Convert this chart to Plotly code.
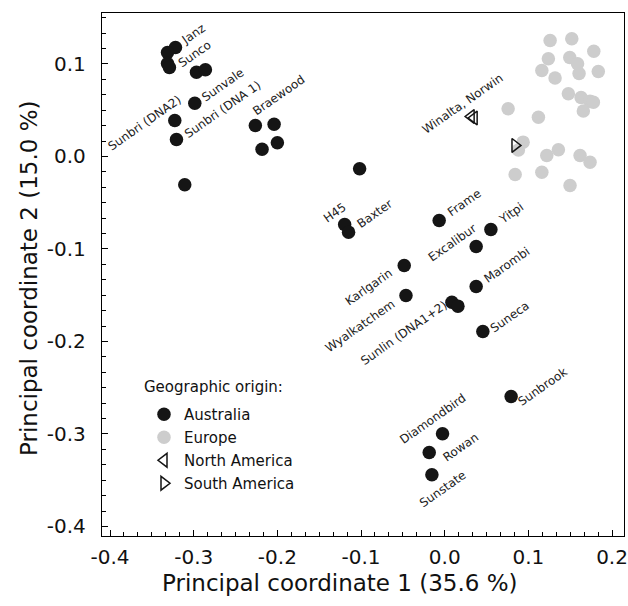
import plotly.graph_objects as go

# ---------------- data ----------------
aus_x = [-0.3218, -0.3313, -0.3313, -0.3290, -0.2967, -0.2860, -0.2987, -0.3226, -0.3206, -0.3107,
         -0.2263, -0.2039, -0.2183, -0.2000, -0.1017, -0.1196, -0.1149, -0.0066, 0.0552, 0.0376,
         -0.0484, -0.0463, 0.0376, 0.0086, 0.0158, 0.0456, 0.0794, -0.0026, -0.0185, -0.0153]
aus_y = [0.1178, 0.1124, 0.1005, 0.0962, 0.0911, 0.0937, 0.0576, 0.0389, 0.0184, -0.0306,
         0.0335, 0.0349, 0.0079, 0.0148, -0.0133, -0.0735, -0.0818, -0.0692, -0.0789, -0.0973,
         -0.1178, -0.1503, -0.1405, -0.1575, -0.1618, -0.1892, -0.2595, -0.2998, -0.3200, -0.3441]

eur_x = [0.1260, 0.1519, 0.1782, 0.1239, 0.1161, 0.1319, 0.1495, 0.1588, 0.1606, 0.1836,
         0.1478, 0.1630, 0.1737, 0.1777, 0.1657, 0.0758, 0.1120, 0.0937, 0.0881, 0.1220,
         0.1359, 0.1618, 0.1737, 0.0842, 0.1161, 0.1498]
eur_y = [0.1254, 0.1272, 0.1138, 0.1056, 0.0930, 0.0849, 0.1070, 0.1002, 0.0897, 0.0919,
         0.0678, 0.0638, 0.0598, 0.0587, 0.0492, 0.0516, 0.0425, 0.0155, 0.0070, 0.0011,
         0.0072, 0.0011, -0.0062, -0.0195, -0.0170, -0.0314]

nam_x = [0.0316, 0.0352]
nam_y = [0.0432, 0.0416]

sam_x = [0.0840]
sam_y = [0.0119]

# cultivar labels: (text, group, index of point)
label_text = ["Janz", "Sunco", "Sunvale", "Sunbri (DNA2)", "Sunbri (DNA 1)", "Braewood",
              "H45", "Baxter", "Frame", "Yitpi", "Excalibur", "Karlgarin", "Wyalkatchem",
              "Marombi", "Sunlin (DNA1+2)", "Suneca", "Winalta, Norwin", "Sunbrook",
              "Diamondbird", "Rowan", "Sunstate"]
label_group = ["aus"] * 16 + ["nam"] + ["aus"] * 4
label_point = [0, 2, 6, 7, 8, 10, 15, 16, 17, 18, 19, 20, 21, 22, 23, 25, 0, 26, 27, 28, 29]

x_tickvals = [-0.4, -0.3, -0.2, -0.1, 0.0, 0.1, 0.2]
x_ticktext = ["-0.4", "-0.3", "-0.2", "-0.1", "0.0", "0.1", "0.2"]
y_tickvals = [0.1, 0.0, -0.1, -0.2, -0.3, -0.4]
y_ticktext = ["0.1", "0.0", "-0.1", "-0.2", "-0.3", "-0.4"]

x_title = "Principal coordinate 1 (35.6 %)"
y_title = "Principal coordinate 2 (15.0 %)"
legend_title = "Geographic origin:"

# ---------------- styling ----------------
# label pixel offsets (dx right, dy down) from their point
label_offsets = [(18, -14), (27, -10), (28, -18), (-30, 3), (47, -30), (24, -30),
                 (-10, -11), (26, -18), (25, -17), (21, -16), (-24, -3), (-35, 22), (-46, 30),
                 (31, -21), (-48, 31), (27, -14), (-9, -13), (31, -10),
                 (-10, -15), (32, -5), (11, 14)]

FONT = "DejaVu Sans"
BLACK = "#151515"
GRAY = "#cdcdcd"
TXT = "#111111"

W, H = 628, 606
ML, MR, MT, MB = 102, 4, 13, 70

fig = go.Figure()
fig.add_trace(go.Scatter(x=aus_x, y=aus_y, mode="markers", name="Australia",
                         legendgroup="a",
                         marker=dict(size=13.5, color=BLACK, line=dict(width=0))))
fig.add_trace(go.Scatter(x=eur_x, y=eur_y, mode="markers", name="Europe",
                         legendgroup="b",
                         marker=dict(size=13.5, color=GRAY, line=dict(width=0))))
fig.add_trace(go.Scatter(x=nam_x, y=nam_y, mode="markers", name="North America",
                         legendgroup="c",
                         marker=dict(size=12, symbol="triangle-left-open", color=BLACK,
                                     line=dict(width=1.5, color=BLACK))))
fig.add_trace(go.Scatter(x=sam_x, y=sam_y, mode="markers", name="South America",
                         legendgroup="d",
                         marker=dict(size=12, symbol="triangle-right-open", color=BLACK,
                                     line=dict(width=1.5, color=BLACK))))

groups = {"aus": (aus_x, aus_y), "nam": (nam_x, nam_y)}
for txt, g, i, (dx, dy) in zip(label_text, label_group, label_point, label_offsets):
    gx, gy = groups[g]
    fig.add_annotation(x=gx[i], y=gy[i], text=txt, showarrow=False, textangle=-35,
                       xanchor="center", yanchor="middle", xshift=dx, yshift=-dy,
                       font=dict(family=FONT, size=12, color="#222222"))

# axis titles and legend heading (placed as paper annotations)
pw, ph = W - ML - MR, H - MT - MB
fig.add_annotation(xref="paper", yref="paper", x=(340 - ML) / pw, y=-(583 - (H - MB)) / ph,
                   text=x_title, showarrow=False, xanchor="center", yanchor="middle",
                   font=dict(family=FONT, size=23, color=TXT))
fig.add_annotation(xref="paper", yref="paper", x=-(ML - 29) / pw, y=1 - (278 - MT) / ph,
                   text=y_title, showarrow=False, xanchor="center", yanchor="middle",
                   textangle=-90, font=dict(family=FONT, size=23, color=TXT))
fig.add_annotation(xref="paper", yref="paper", x=(144 - ML) / pw, y=1 - (387 - MT) / ph,
                   text=legend_title, showarrow=False, xanchor="left", yanchor="middle",
                   xshift=-2, font=dict(family=FONT, size=15, color=TXT))

axis_common = dict(showline=True, mirror=True, linecolor="black", linewidth=1.3,
                   ticks="inside", ticklen=6, tickwidth=1.2, tickcolor="black",
                   showgrid=False, zeroline=False, automargin=False,
                   tickfont=dict(family=FONT, size=20, color=TXT),
                   minor=dict(ticks="inside", ticklen=4, tickwidth=1, tickcolor="black",
                              dtick=0.1 / 6, showgrid=False))

fig.update_xaxes(range=[-0.4096, 0.2143], tickvals=x_tickvals, ticktext=x_ticktext,
                 ticklabelstandoff=3, **axis_common)
fig.update_yaxes(range=[-0.4103, 0.1551], tickvals=y_tickvals, ticktext=y_ticktext,
                 ticklabelstandoff=11, **axis_common)

fig.update_layout(
    width=W, height=H,
    margin=dict(l=ML, r=MR, t=MT, b=MB, autoexpand=False),
    paper_bgcolor="white", plot_bgcolor="white",
    font=dict(family=FONT),
    legend=dict(x=(144 - ML) / pw, y=1 - (398 - MT) / ph, xanchor="left", yanchor="top",
                font=dict(family=FONT, size=15, color=TXT),
                bgcolor="rgba(0,0,0,0)", tracegroupgap=0.5, itemsizing="trace"),
)

fig.write_html("out.html", config={"displayModeBar": False},
               post_script="document.body.style.margin='0';document.body.style.overflow='hidden';")
